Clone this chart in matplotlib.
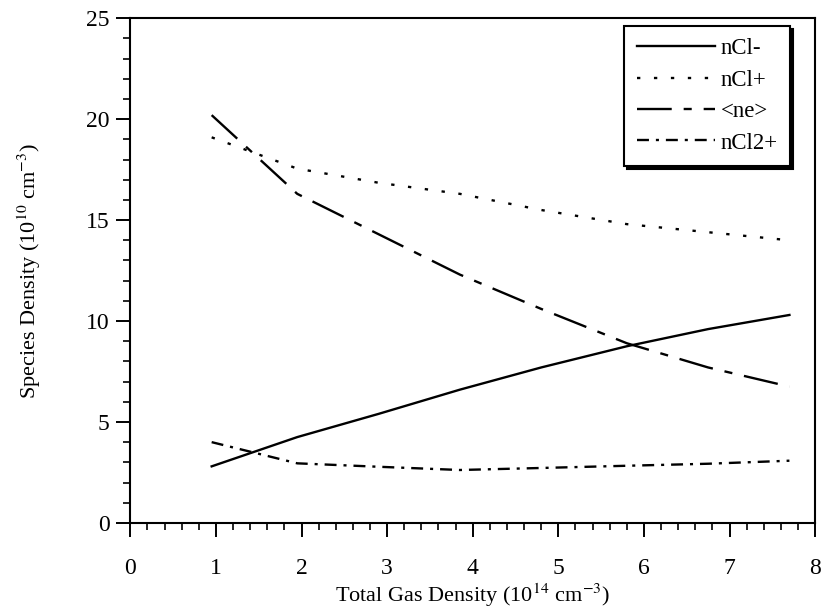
"""Species densities vs total gas density (Cl2 plasma), four species.

Solid = negative ion density, dotted = positive Cl+, long-short dash = mean
electron density, dash-dot = Cl2+. Output: out.png (825x608).
"""
import matplotlib
matplotlib.use("Agg")
import matplotlib.pyplot as plt
from matplotlib.ticker import MultipleLocator

plt.rcParams["font.family"] = ["Liberation Serif", "DejaVu Serif"]
plt.rcParams["mathtext.fontset"] = "stix"
plt.rcParams["lines.scale_dashes"] = False

# data (x in 1e14 cm^-3, y in 1e10 cm^-3)
gas_density = [0.95, 1.95, 2.9, 3.85, 4.8, 5.8, 6.75, 7.7]
n_cl_minus = [2.8, 4.25, 5.4, 6.6, 7.7, 8.75, 9.6, 10.3]
n_cl_plus = [19.1, 17.55, 16.85, 16.3, 15.5, 14.8, 14.4, 14.0]
n_e = [20.2, 16.3, 14.3, 12.3, 10.6, 8.9, 7.7, 6.75]
n_cl2_plus = [4.0, 2.95, 2.78, 2.62, 2.72, 2.83, 2.93, 3.08]

labels = ["nCl-", "nCl+", "<ne>", "nCl2+"]

LW = 1.7
DASHES = {
    "nCl-": None,                       # solid
    "nCl+": (2.4, 9.8),                 # sparse dots
    "<ne>": (25.0, 8.6, 5.8, 8.6),      # long - short
    "nCl2+": (8.6, 5.0, 2.2, 5.0),      # dash - dot
}


def main():
    fig = plt.figure(figsize=(8.25, 6.08), dpi=100)
    ax = fig.add_axes([0.158, 0.140, 0.830, 0.830])

    series = [n_cl_minus, n_cl_plus, n_e, n_cl2_plus]
    for lab, ys in zip(labels, series):
        line, = ax.plot(gas_density, ys, color="black", lw=LW, label=lab)
        if DASHES[lab] is not None:
            line.set_dashes(DASHES[lab])

    ax.set_xlim(0, 8)
    ax.set_ylim(0, 25)
    ax.xaxis.set_major_locator(MultipleLocator(1))
    ax.xaxis.set_minor_locator(MultipleLocator(0.2))
    ax.yaxis.set_major_locator(MultipleLocator(5))
    ax.yaxis.set_minor_locator(MultipleLocator(1))
    ax.tick_params(which="major", direction="out", length=10, width=1.4,
                   labelsize=17)
    ax.tick_params(which="minor", direction="out", length=5, width=1.2)
    ax.tick_params(axis="x", which="major", pad=15)
    ax.tick_params(axis="y", which="major", pad=5)
    for s in ax.spines.values():
        s.set_linewidth(1.5)

    ax.set_xlabel("Total Gas Density (10$^{14}$ cm$^{-3}$)", fontsize=16,
                  labelpad=2)
    ax.set_ylabel("Species Density (10$^{10}$ cm$^{-3}$)", fontsize=16,
                  labelpad=31)

    leg = ax.legend(loc="upper right", bbox_to_anchor=(0.964, 0.985),
                    borderaxespad=0, fontsize=16.5, handlelength=3.4,
                    handletextpad=0.25, labelspacing=0.45, borderpad=0.55,
                    fancybox=False, framealpha=1,
                    shadow={"color": "black", "alpha": 1.0})
    leg.get_frame().set_edgecolor("black")
    leg.get_frame().set_linewidth(1.5)

    fig.savefig("out.png", dpi=100)


if __name__ == "__main__":
    main()
